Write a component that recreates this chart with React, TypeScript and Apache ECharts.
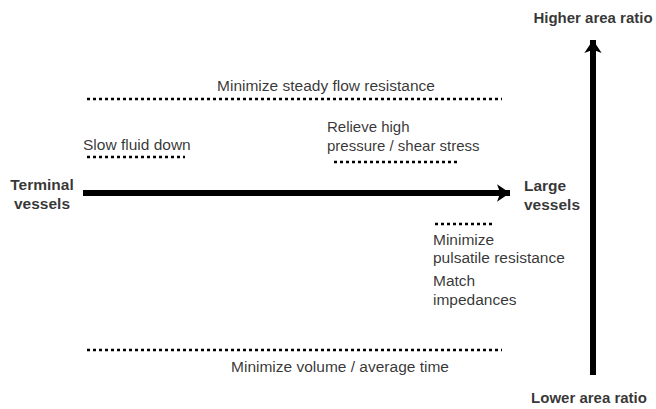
import React, { useEffect, useRef } from "react";
import * as echarts from "echarts";

const W = 656;
const H = 409;

// Dotted boundary lines: [xStart, xEnd, y]
const dottedLines: [number, number, number][] = [
  [87, 502, 99],
  [87, 185, 157],
  [334, 457, 162],
  [435, 494, 224],
  [87, 502, 350],
];

// Arrows: [x1, y1, x2, y2]
const arrows: [number, number, number, number][] = [
  [83, 193, 510, 193],
  [593, 375, 593, 40],
];

// Regular labels: [text, x, y, align, fontSize]
const plainLabels: [string, number, number, string, number][] = [
  ["Minimize steady flow resistance", 326, 85, "center", 15.5],
  ["Relieve high\npressure / shear stress", 327, 136, "left", 15],
  ["Slow fluid down", 83, 144, "left", 15.5],
  ["Minimize\npulsatile resistance", 433, 248.5, "left", 15.5],
  ["Match\nimpedances", 433, 290, "left", 15.5],
  ["Minimize volume / average time", 340, 366, "center", 15.5],
];

// Bold labels: [text, x, y, align, fontSize]
const boldLabels: [string, number, number, string, number][] = [
  ["Higher area ratio", 593, 17, "center", 15],
  ["Lower area ratio", 589, 397, "center", 15],
  ["Terminal\nvessels", 42, 194, "center", 15.5],
  ["Large\nvessels", 524, 195, "left", 15.5],
];

export default function App() {
  const ref = useRef<HTMLDivElement>(null);
  useEffect(() => {
    if (!ref.current) return;
    const chart = echarts.init(ref.current, undefined, { renderer: "svg" });
    const font = "Liberation Sans";
    const labelItem = (
      t: [string, number, number, string, number],
      bold: boolean
    ) => ({
      value: [t[1], t[2]],
      label: {
        show: true,
        position: "inside",
        formatter: t[0],
        align: t[3],
        verticalAlign: "middle",
        fontFamily: font,
        fontSize: t[4],
        fontWeight: bold ? "bold" : "normal",
        lineHeight: 18.5,
        color: "#000",
      },
    });
    const series: any[] = [];
    dottedLines.forEach((d) => {
      series.push({
        type: "line",
        data: [
          [d[0], d[2]],
          [d[1], d[2]],
        ],
        symbol: "none",
        silent: true,
        lineStyle: { color: "#000", width: 2.5, type: [3, 3] },
      });
    });
    series.push({
      type: "lines",
      coordinateSystem: "cartesian2d",
      symbol: ["none", "arrow"],
      symbolSize: [11, 13],
      silent: true,
      lineStyle: { color: "#000", width: 6, opacity: 1, curveness: 0 },
      data: arrows.map((a) => ({
        coords: [
          [a[0], a[1]],
          [a[2], a[3]],
        ],
      })),
    });
    series.push({
      type: "scatter",
      symbolSize: 1,
      itemStyle: { color: "rgba(0,0,0,0)" },
      silent: true,
      data: [
        ...plainLabels.map((t) => labelItem(t, false)),
        ...boldLabels.map((t) => labelItem(t, true)),
      ],
    });
    chart.setOption({
      animation: false,
      backgroundColor: "#fff",
      textStyle: { fontFamily: font },
      grid: { left: 0, right: 0, top: 0, bottom: 0 },
      xAxis: { type: "value", min: 0, max: W, show: false },
      yAxis: { type: "value", min: 0, max: H, inverse: true, show: false },
      series,
    });
    return () => chart.dispose();
  }, []);
  return (
    <div
      ref={ref}
      style={{ position: "fixed", left: 0, top: 0, width: W, height: H }}
    />
  );
}
